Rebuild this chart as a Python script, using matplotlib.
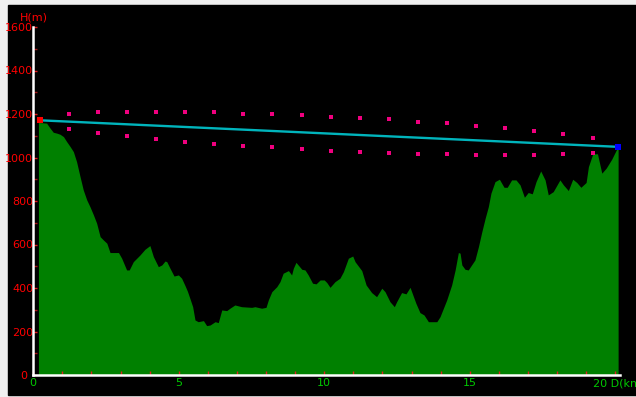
import matplotlib
matplotlib.use("Agg")
import matplotlib.pyplot as plt
from matplotlib.patches import Rectangle
from matplotlib.ticker import MultipleLocator
from matplotlib.transforms import ScaledTranslation

# Elevation profile of the route (distance in km, height in m)
dist_km = [0.18, 0.46, 0.58, 0.69, 0.81, 0.92, 1.04, 1.15, 1.27, 1.38,
           1.49, 1.61, 1.72, 1.84, 1.95, 2.07, 2.18, 2.30, 2.41, 2.53,
           2.64, 2.93, 3.04, 3.21, 3.30, 3.44, 3.67, 3.84, 4.01, 4.13,
           4.30, 4.42, 4.53, 4.59, 4.70, 4.84, 4.99, 5.10, 5.22, 5.30,
           5.39, 5.48, 5.56, 5.67, 5.85, 5.96, 6.08, 6.25, 6.36, 6.48,
           6.65, 6.76, 6.93, 7.16, 7.51, 7.62, 7.85, 8.00, 8.08, 8.20,
           8.37, 8.48, 8.59, 8.77, 8.88, 8.94, 9.03, 9.23, 9.34, 9.45,
           9.60, 9.72, 9.86, 10.00, 10.09, 10.20, 10.37, 10.54, 10.66, 10.83,
           10.98, 11.06, 11.29, 11.44, 11.63, 11.80, 11.98, 12.09, 12.26, 12.41,
           12.49, 12.66, 12.81, 12.95, 13.15, 13.29, 13.43, 13.58, 13.87, 13.98,
           14.21, 14.38, 14.50, 14.61, 14.67, 14.73, 14.84, 14.95, 15.18, 15.30,
           15.41, 15.53, 15.64, 15.73, 15.87, 16.02, 16.18, 16.29, 16.44, 16.59,
           16.73, 16.88, 17.01, 17.15, 17.28, 17.44, 17.59, 17.70, 17.87, 18.10,
           18.22, 18.39, 18.54, 18.68, 18.82, 19.00, 19.08, 19.23, 19.39, 19.54,
           19.69, 19.88, 20.05, 20.10]
elev_m = [1161, 1158, 1135, 1116, 1112, 1107, 1096, 1073, 1050, 1027,
          981, 912, 851, 805, 774, 736, 698, 636, 621, 606,
          563, 563, 537, 483, 483, 521, 552, 578, 595, 544,
          498, 506, 524, 521, 491, 455, 460, 445, 410, 385,
          350, 314, 253, 245, 250, 227, 230, 245, 241, 299,
          296, 307, 322, 314, 311, 314, 307, 311, 345, 383,
          406, 429, 468, 480, 460, 491, 518, 486, 483, 460,
          422, 419, 437, 437, 425, 403, 429, 445, 475, 537,
          547, 521, 480, 414, 379, 360, 399, 383, 337, 314,
          337, 379, 373, 403, 330, 287, 276, 245, 245, 268,
          345, 414, 483, 563, 560, 506, 486, 483, 529, 590,
          655, 720, 774, 836, 889, 900, 863, 863, 897, 897,
          874, 817, 839, 833, 889, 938, 897, 828, 843, 897,
          874, 848, 900, 885, 863, 885, 958, 1017, 1017, 928,
          951, 992, 1038, 1043]

# Straight reference line between start and end points
start_km, start_m = 0.24, 1171
end_km, end_m = 20.10, 1049

# Upper / lower band markers at every kilometre
band_km = [1.22, 2.22, 3.22, 4.22, 5.22, 6.22, 7.22, 8.22, 9.22, 10.22,
           11.22, 12.22, 13.22, 14.22, 15.22, 16.22, 17.22, 18.22, 19.22]
band_upper = [1199, 1207, 1210, 1210, 1210, 1207, 1202, 1199, 1195, 1188,
              1181, 1176, 1165, 1158, 1147, 1135, 1124, 1110, 1090]
band_lower = [1132, 1113, 1098, 1084, 1072, 1064, 1053, 1046, 1038, 1030,
              1027, 1020, 1017, 1017, 1012, 1012, 1012, 1017, 1020]

x_major = [0, 5, 10, 15, 20]
x_labels = ["0", "5", "10", "15", ""]
y_major = [0, 200, 400, 600, 800, 1000, 1200, 1400, 1600]

W, H = 636, 397
fig = plt.figure(figsize=(W / 100, H / 100), dpi=100)
fig.patch.set_facecolor("#f0f0f0")
fig.add_artist(Rectangle((8 / W, 2 / H), 1 - 8 / W, (H - 7) / H,
                         transform=fig.transFigure, color="black", zorder=0))

x0_px, km_px = 33.2, 29.1
ax = fig.add_axes([x0_px / W, 22 / H, km_px * 20.15 / W, 348 / H])
ax.set_facecolor("black")
ax.set_xlim(0, 20.15)
ax.set_ylim(0, 1600)

ax.fill_between(dist_km, elev_m, 0, color="#008000", linewidth=0, zorder=1)

ax.plot([start_km, end_km], [start_m, end_m], color="#00b4bc", lw=1.7,
        solid_capstyle="butt", zorder=3)
ax.plot(band_km, band_upper, ls="none", marker="s", ms=3.0,
        color="#f0007f", mew=0, zorder=3)
ax.plot(band_km, band_lower, ls="none", marker="s", ms=3.0,
        color="#f0007f", mew=0, zorder=3)
ax.plot([start_km], [start_m], ls="none", marker="s", ms=4.4,
        color="#ff0000", mew=0, zorder=4, clip_on=False)
ax.plot([end_km], [end_m], ls="none", marker="s", ms=4.6,
        color="#0000ff", mew=0, zorder=4, clip_on=False)

for side in ("top", "right"):
    ax.spines[side].set_visible(False)
for side in ("left", "bottom"):
    ax.spines[side].set_color("white")
    ax.spines[side].set_linewidth(1.8)
    ax.spines[side].set_zorder(5)

ax.set_xticks(x_major)
ax.set_xticklabels(x_labels)
ax.xaxis.set_minor_locator(MultipleLocator(1))
ax.set_yticks(y_major)
ax.set_yticklabels([str(v) for v in y_major])
ax.yaxis.set_minor_locator(MultipleLocator(100))

ax.tick_params(axis="x", which="both", direction="in", length=3, width=1,
               color="#e02020", labelcolor="#00c800", labelsize=8, pad=2)
ax.tick_params(axis="y", which="major", direction="in", length=3, width=1,
               color="#e02020", labelcolor="#ff0000", labelsize=8, pad=0)
ax.tick_params(axis="y", which="minor", direction="in", length=3, width=1,
               color="#a01818")

# keep the "0" height label clear of the "0" distance label
zero_lbl = ax.get_yticklabels()[0]
zero_lbl.set_transform(zero_lbl.get_transform()
                       + ScaledTranslation(-0.06, 0.0, fig.dpi_scale_trans))

ax.annotate("20 D(km)", xy=(20, 0), xycoords="data",
            xytext=(-22, -3), textcoords="offset pixels",
            ha="left", va="top", color="#00c800", fontsize=8,
            annotation_clip=False)
fig.text(34 / W, 1 - 18 / H, "H(m)", ha="center", va="center",
         color="#ff0000", fontsize=8)

fig.savefig("out.png", dpi=100, facecolor=fig.get_facecolor())
